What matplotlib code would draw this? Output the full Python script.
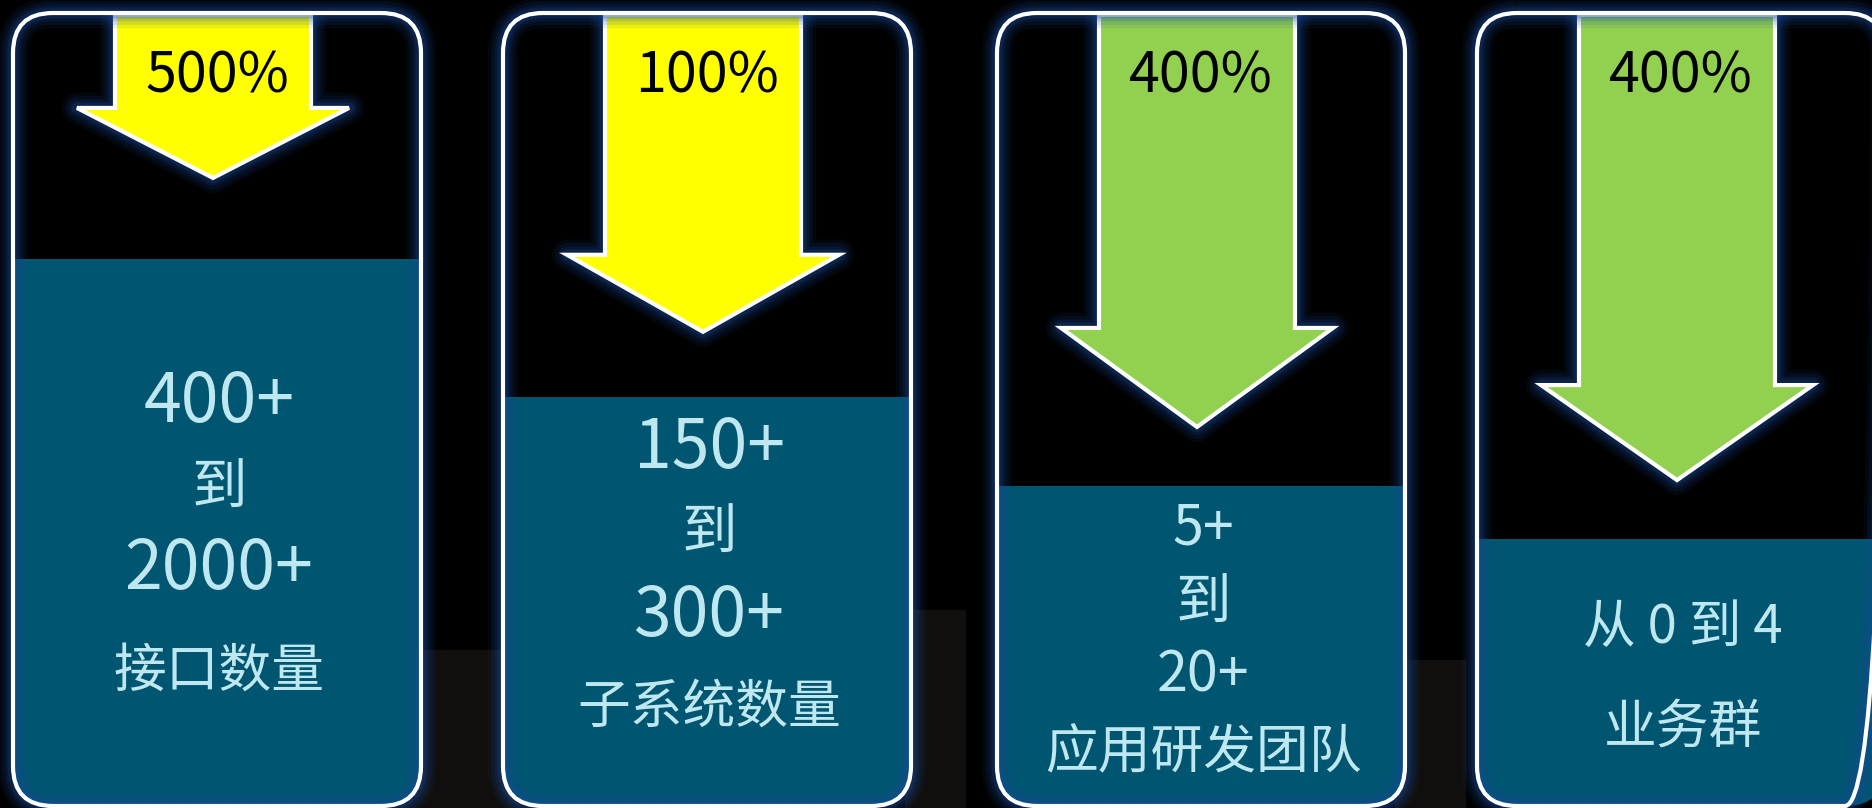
import matplotlib.pyplot as plt
import matplotlib.patheffects as pe
from matplotlib.patches import FancyBboxPatch, Rectangle, Polygon

plt.rcParams['font.family'] = ['Noto Sans CJK SC', 'DejaVu Sans']

# data
pct_labels = ["500%", "100%", "400%", "400%"]
arrow_colors = ["#FFFF00", "#FFFF00", "#92D050", "#92D050"]
start_vals = ["400+", "150+", "5+", None]
end_vals = ["2000+", "300+", "20+", None]
names = ["接口数量", "子系统数量", "应用研发团队", "业务群"]
extra_line = [None, None, None, "从 0 到 4"]
fill_level = [0.690, 0.516, 0.404, 0.337]   # share of card height in teal
arrow_reach = [0.208, 0.402, 0.522, 0.589]  # arrow tip, share of card height from top

# layout (pixels)
W, H = 1872, 808
card_left = [13, 503, 997, 1477]
card_w = 408
card_top, card_bot = 13, 806
head_h = [70, 77, 99, 95]
text_y = [
    [403, 489, 570, 671],
    [449, 534, 617, 707],
    [529, 604, 676, 753],
    [627, 728],
]
num_size = [49, 49, 40, 40]

teal = "#005670"
txt_col = "#BFE7F0"
glow_col = "#1a4a9a"

fig = plt.figure(figsize=(W / 100, H / 100), dpi=100, facecolor="black")
ax = fig.add_axes([0, 0, 1, 1])
ax.set_xlim(0, W)
ax.set_ylim(H, 0)
ax.axis("off")
ax.set_facecolor("black")

# faint background shapes
for x0, y0, w, h in [(400, 650, 120, 160), (905, 610, 60, 200), (1395, 660, 70, 150)]:
    ax.add_patch(Rectangle((x0, y0), w, h, color="#100f0e", zorder=0))

glow = [pe.Stroke(linewidth=lw, foreground=glow_col, alpha=a, joinstyle="round")
        for lw, a in [(22, 0.09), (17, 0.12), (12, 0.16), (8, 0.24)]] + [pe.Normal()]

card_h = card_bot - card_top
for i in range(4):
    x0 = card_left[i]
    cx = x0 + card_w / 2
    ax_c = x0 + 200

    face = FancyBboxPatch((x0, card_top), card_w, card_h,
                          boxstyle="round,pad=0,rounding_size=40",
                          facecolor="black", edgecolor="none", zorder=1)
    ax.add_patch(face)

    ft = card_bot - fill_level[i] * card_h
    tr = Rectangle((x0 - 5, ft), card_w + 10, card_bot - ft + 5,
                   facecolor=teal, edgecolor="none", zorder=2)
    ax.add_patch(tr)
    tr.set_clip_path(face)

    # arrow
    tip = card_top + arrow_reach[i] * card_h
    wing = tip - head_h[i]
    sw, hw = 98, 136
    pts = [(ax_c - sw, card_top + 2), (ax_c + sw, card_top + 2), (ax_c + sw, wing),
           (ax_c + hw, wing), (ax_c, tip), (ax_c - hw, wing), (ax_c - sw, wing)]
    arr = Polygon(pts, closed=True, facecolor=arrow_colors[i], edgecolor="white",
                  linewidth=3, joinstyle="miter", zorder=3)
    arr.set_path_effects(glow)
    ax.add_patch(arr)
    arr.set_clip_path(face)

    ax.text(ax_c + 4, 77, pct_labels[i], ha="center", va="center",
            fontsize=40, color="black", zorder=6)

    # border
    border = FancyBboxPatch((x0, card_top), card_w, card_h,
                            boxstyle="round,pad=0,rounding_size=40",
                            facecolor="none", edgecolor="white", linewidth=3, zorder=5)
    border.set_path_effects(glow)
    ax.add_patch(border)

    ys = text_y[i]
    tx = cx + 2
    if start_vals[i] is not None:
        ax.text(tx, ys[0], start_vals[i], ha="center", va="center",
                fontsize=num_size[i], color=txt_col, zorder=6)
        ax.text(tx, ys[1], "到", ha="center", va="center",
                fontsize=40, color=txt_col, zorder=6)
        ax.text(tx, ys[2], end_vals[i], ha="center", va="center",
                fontsize=num_size[i], color=txt_col, zorder=6)
        ax.text(tx, ys[3], names[i], ha="center", va="center",
                fontsize=38, color=txt_col, zorder=6)
    else:
        ax.text(tx, ys[0], extra_line[i], ha="center", va="center",
                fontsize=38, color=txt_col, zorder=6)
        ax.text(tx, ys[1], names[i], ha="center", va="center",
                fontsize=38, color=txt_col, zorder=6)

fig.savefig("out.png", dpi=100, facecolor="black")
